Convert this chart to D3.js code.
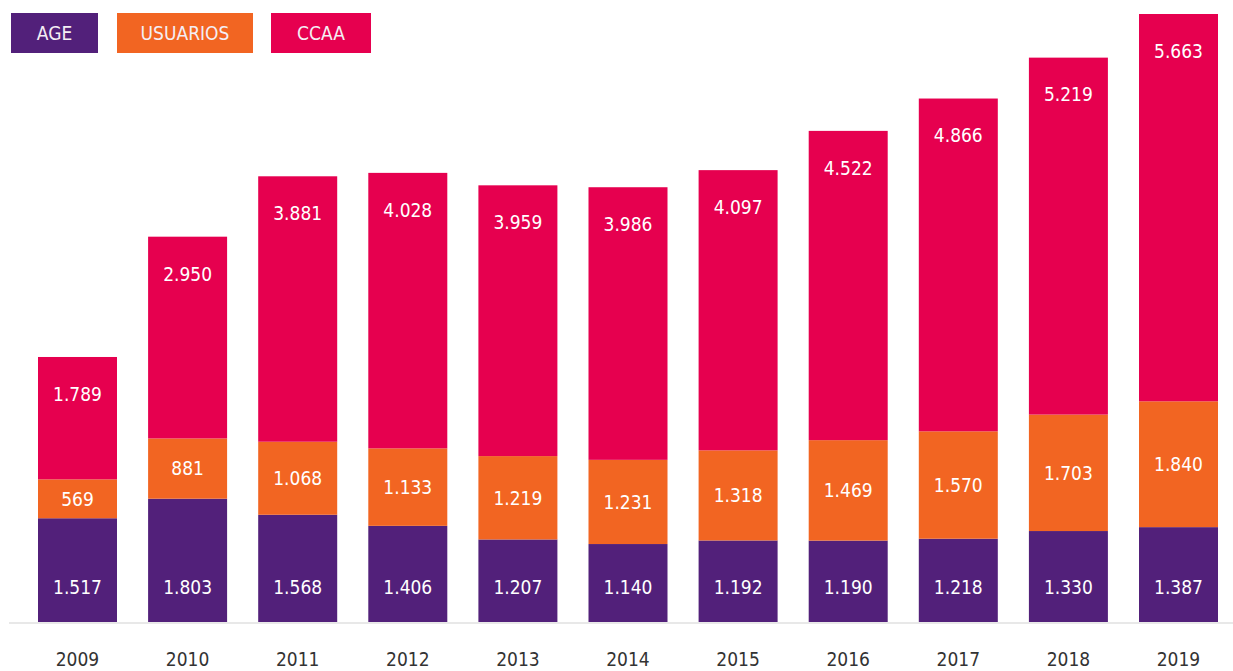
<!DOCTYPE html>
<html><head><meta charset="utf-8">
<script src="https://cdn.jsdelivr.net/npm/d3@7"></script>
<style>
html,body{margin:0;padding:0;background:#fff;}
svg{display:block;}
text{font-family:"DejaVu Sans Condensed","Liberation Sans Narrow","DejaVu Sans",sans-serif;font-stretch:condensed;}
</style></head>
<body><svg id="c" width="1233" height="671"></svg>
<script>
const years = ["2009","2010","2011","2012","2013","2014","2015","2016","2017","2018","2019"];
const age      = [1517,1803,1568,1406,1207,1140,1192,1190,1218,1330,1387];
const usuarios = [569,881,1068,1133,1219,1231,1318,1469,1570,1703,1840];
const ccaa     = [1789,2950,3881,4028,3959,3986,4097,4522,4866,5219,5663];
const seriesNames = ["AGE","USUARIOS","CCAA"];
const colors = ["#52207a","#f26522","#e6004f"];

const rows = years.map((y,i)=>({year:y, AGE:age[i], USUARIOS:usuarios[i], CCAA:ccaa[i]}));
const stack = d3.stack().keys(seriesNames)(rows);
const maxTotal = d3.max(rows, r=>r.AGE+r.USUARIOS+r.CCAA);

const svg = d3.select("#c");
const x = d3.scaleBand().domain(years).range([-17.05, 1273.05]).paddingInner(0.2825).paddingOuter(0.5);
const y = d3.scaleLinear().domain([0, maxTotal]).range([622, 14]);
const color = d3.scaleOrdinal().domain(seriesNames).range(colors);
const fmt = v => d3.format(",")(v).replace(/,/g,".");

// baseline
svg.append("line").attr("x1",9).attr("x2",1233).attr("y1",623).attr("y2",623)
  .attr("stroke","#e8e8e8").attr("stroke-width",2);

const g = svg.append("g");
stack.forEach(s=>{
  g.selectAll(null).data(s).join("rect")
    .attr("x", d=>x(d.data.year)).attr("width", x.bandwidth())
    .attr("y", d=>y(d[1])).attr("height", d=>y(d[0])-y(d[1]))
    .attr("fill", color(s.key));
});
stack.forEach(s=>{
  g.selectAll(null).data(s).join("text")
    .attr("x", d=>x(d.data.year)+x.bandwidth()/2)
    .attr("y", d=>{
      if(s.key==="AGE") return y(0)-35;
      if(s.key==="USUARIOS") return (y(d[0])+y(d[1]))/2;
      return y(d[1])+37;
    })
    .attr("dy","0.36em").attr("text-anchor","middle")
    .attr("fill","#fff").attr("font-size",19)
    .text(d=>fmt(d[1]-d[0]));
});

// x axis labels
const xAxis = d3.axisBottom(x).tickSize(0).tickPadding(0);
const ax = svg.append("g").attr("transform","translate(0,666)").call(xAxis);
ax.select(".domain").remove();
ax.selectAll("text").attr("font-size",19).attr("fill","#333").attr("dy","0").attr("y",0)
  .style("font-family","\"DejaVu Sans Condensed\",\"Liberation Sans Narrow\",sans-serif");

// legend
const legendBoxes = [[11,87],[117,136],[271,100]];
const lg = svg.append("g");
seriesNames.forEach((n,i)=>{
  const [lx,lw] = legendBoxes[i];
  lg.append("rect").attr("x",lx).attr("y",13).attr("width",lw).attr("height",40).attr("fill",color(n));
  lg.append("text").attr("x",lx+lw/2).attr("y",33).attr("dy","0.36em").attr("text-anchor","middle")
    .attr("fill","#f4eef4").attr("font-size",19).text(n);
});
</script></body></html>
